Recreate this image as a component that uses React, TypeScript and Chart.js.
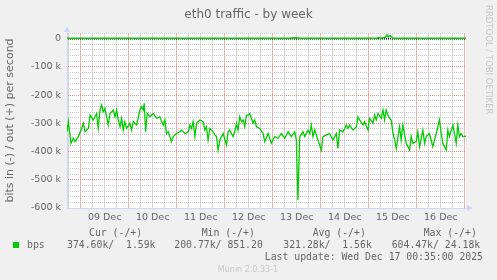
import React, { useEffect, useRef } from "react";
import { Chart, registerables } from "chart.js";

Chart.register(...registerables);

// time axis: hours since 08 Dec 00:00
const inHours = [
  17.2, 17.9, 19.2, 20.4, 21.2, 22.9, 24.5, 25.4, 26.2, 27.9, 28.7, 30.3, 32.0, 32.8, 33.7, 34.5,
  35.3, 36.2, 37.8, 38.7, 40.3, 41.2, 42.0, 42.8, 43.7, 44.5, 45.3, 46.1, 47.0, 48.6, 49.5, 50.3,
  52.0, 53.6, 54.5, 55.3, 55.8, 56.5, 57.3, 58.6, 60.3, 61.9, 63.6, 65.3, 66.1, 66.9, 67.8, 68.6,
  69.4, 70.3, 71.9, 73.6, 74.4, 76.1, 77.8, 78.6, 79.4, 80.2, 81.1, 81.9, 83.6, 85.2, 86.1, 86.9,
  87.7, 88.6, 90.2, 91.1, 91.9, 92.7, 93.6, 94.4, 95.2, 96.9, 97.7, 98.5, 100.2, 101.0, 101.9, 102.7,
  103.5, 104.4, 105.2, 106.0, 106.9, 107.7, 108.5, 110.2, 111.0, 111.9, 113.5, 115.2, 116.0, 117.7,
  119.3, 121.0, 122.7, 124.3, 126.0, 127.7, 129.3, 131.0, 131.8, 132.6, 133.5, 135.1, 136.0, 137.6,
  138.5, 139.3, 140.1, 141.0, 142.6, 144.3, 145.1, 146.8, 148.4, 150.1, 151.8, 152.6, 153.4, 155.1,
  156.8, 157.6, 158.4, 160.1, 161.8, 162.6, 163.4, 165.1, 165.9, 167.6, 168.4, 170.1, 170.9, 171.7,
  172.6, 174.2, 175.1, 175.9, 176.7, 177.6, 178.4, 179.2, 180.0, 180.9, 181.7, 183.4, 184.2, 185.0,
  186.7, 188.4, 189.2, 190.0, 191.7, 192.5, 193.4, 195.0, 195.9, 196.7, 198.3, 200.0, 201.7, 203.3,
  204.2, 205.0, 206.7, 207.5, 208.3, 210.0, 210.8, 211.7, 212.5, 213.3, 214.1, 215.0, 215.8, 216.5,
];
// bits in, thousands (negative = in)
const inValues = [
  -330, -294, -371, -353, -365, -347, -318, -300, -330, -318, -271, -288, -265, -318, -253, -235,
  -259, -247, -306, -265, -253, -277, -253, -288, -312, -282, -324, -294, -318, -300, -324, -294,
  -306, -253, -241, -253, -229, -330, -265, -277, -265, -282, -277, -306, -288, -336, -330, -347,
  -365, -347, -336, -330, -324, -336, -330, -306, -318, -294, -347, -300, -288, -294, -324, -312,
  -359, -318, -330, -341, -347, -395, -359, -347, -336, -377, -330, -324, -347, -330, -300, -324,
  -277, -294, -288, -312, -271, -271, -265, -300, -288, -312, -318, -336, -365, -336,
  -371, -347, -353, -336, -353, -330, -347, -330, -359, -572, -347, -330, -347, -324,
  -336, -306, -347, -324, -359, -395, -347, -341, -336, -359, -336, -389, -324, -330,
  -306, -318, -306, -324, -312, -277, -288, -306, -294, -324, -282, -300, -271, -288,
  -265, -282, -253, -288, -253, -271, -282, -288, -330, -359, -389, -312, -359, -306,
  -371, -395, -347, -371, -365, -330, -383, -324, -371, -347, -336, -383, -336, -288,
  -336, -371, -395, -324, -347, -306, -336, -371, -306, -347, -336, -347, -347, -345,
];
// bits out, thousands
const outHours = [17.2, 40, 70, 100, 128, 131.0, 134, 160, 172.2, 173.0, 174.0, 176.0, 177.2, 177.8, 178.6, 180, 200, 216.5];
const outValues = [1.5, 1.4, 1.5, 1.5, 1.5, 3.5, 1.5, 1.5, 1.5, 4.5, 1.5, 4, 13, 6, 11, 1.5, 1.5, 1.6];

const xLabelHours = [36, 60, 84, 108, 132, 156, 180, 204];
const xTickLabels = ["09 Dec", "10 Dec", "11 Dec", "12 Dec", "13 Dec", "14 Dec", "15 Dec", "16 Dec"];
const yLabelValues = [0, -100, -200, -300, -400, -500, -600];
const yTickLabels = ["0", "-100 k", "-200 k", "-300 k", "-400 k", "-500 k", "-600 k"];

const titleText = "eth0 traffic - by week";
const yTitleText = "bits in (-) / out (+) per second";
const sideText = "RRDTOOL / TOBI OETIKER";
const legendName = "bps";
const legendHeaders = ["Cur (-/+)", "Min (-/+)", "Avg (-/+)", "Max (-/+)"];
const legendValues = ["374.60k/  1.59k", "200.77k/ 851.20", "321.28k/  1.56k", "604.47k/ 24.18k"];
const lastUpdate = "Last update: Wed Dec 17 00:35:00 2025";
const footer = "Munin 2.0.33-1";

const GREEN = "#00cc00";
const FONT = "#666666";
const AXIS = "#cfd6f8";
const X_MINOR = "#d6d6d6";
const X_MAJOR = "#f2acac";
const Y_MINOR = "#c8c8c8";
const Y_MAJOR = "#ec8c8c";

const decorPlugin = {
  id: "decor",
  beforeDraw(chart: any) {
    const { ctx, chartArea } = chart;
    ctx.save();
    ctx.fillStyle = "#f0f0f0";
    ctx.fillRect(0, 0, chart.width, chart.height);
    ctx.fillStyle = "#ffffff";
    ctx.fillRect(chartArea.left, chartArea.top, chartArea.right - chartArea.left, chartArea.bottom - chartArea.top);
    ctx.restore();
  },
  afterDraw(chart: any) {
    const { ctx, chartArea } = chart;
    ctx.save();
    ctx.fillStyle = AXIS;
    ctx.beginPath();
    ctx.moveTo(chartArea.left - 3, chartArea.top - 1);
    ctx.lineTo(chartArea.left + 3, chartArea.top - 1);
    ctx.lineTo(chartArea.left, chartArea.top - 7);
    ctx.closePath();
    ctx.fill();
    ctx.beginPath();
    ctx.moveTo(chartArea.right + 1, chartArea.bottom - 3);
    ctx.lineTo(chartArea.right + 1, chartArea.bottom + 3);
    ctx.lineTo(chartArea.right + 7, chartArea.bottom);
    ctx.closePath();
    ctx.fill();

    ctx.fillStyle = FONT;
    ctx.textAlign = "center";
    ctx.textBaseline = "middle";
    ctx.font = '12px "DejaVu Sans"';
    ctx.fillText(titleText, 248.5, 14.5);

    ctx.save();
    ctx.translate(488.5, 5);
    ctx.rotate(Math.PI / 2);
    ctx.fillStyle = "#c8c8c8";
    ctx.font = '8.5px "DejaVu Sans"';
    ctx.textAlign = "left";
    ctx.fillText(sideText, 0, 0);
    ctx.restore();

    ctx.fillStyle = GREEN;
    ctx.fillRect(13, 242, 6, 6);
    ctx.fillStyle = FONT;
    ctx.font = '9.8px "DejaVu Sans Mono"';
    ctx.textAlign = "left";
    const hx = [89, 201.7, 312.7, 423.7];
    const vx = [67, 174.3, 283.3, 391.7];
    legendHeaders.forEach((t, i) => ctx.fillText(t, hx[i], 233.5));
    ctx.fillText(legendName, 27, 245.3);
    legendValues.forEach((t, i) => ctx.fillText(t, vx[i], 245.3));
    ctx.textAlign = "right";
    ctx.fillText(lastUpdate, 483, 257.7);

    ctx.textAlign = "center";
    ctx.fillStyle = "#c8c8c8";
    ctx.font = '8px "DejaVu Sans"';
    ctx.fillText(footer, 248, 269.5);
    ctx.restore();
  },
};

export default function App() {
  const ref = useRef<HTMLCanvasElement | null>(null);
  useEffect(() => {
    document.body.style.margin = "0";
    const canvas = ref.current;
    if (!canvas) return;
    const chart = new Chart(canvas, {
      type: "line",
      data: {
        datasets: [
          {
            label: "out",
            data: outHours.map((h, i) => ({ x: h, y: outValues[i] })),
            borderColor: GREEN,
            borderWidth: 1.5,
            pointRadius: 0,
            tension: 0,
          },
          {
            label: "in",
            data: inHours.map((h, i) => ({ x: h, y: inValues[i] })),
            borderColor: GREEN,
            borderWidth: 1.3,
            pointRadius: 0,
            tension: 0,
          },
        ],
      },
      plugins: [decorPlugin],
      options: {
        animation: false,
        responsive: false,
        events: [],
        layout: { padding: { left: 0, top: 33, right: 31, bottom: 52 } },
        plugins: { legend: { display: false }, title: { display: false }, tooltip: { enabled: false } },
        scales: {
          x: {
            type: "linear",
            min: 17.2,
            max: 216.58,
            afterFit: (s: any) => {
              s.height = 20;
            },
            afterBuildTicks: (s: any) => {
              const t = [];
              for (let h = 18; h <= 216; h += 6) t.push({ value: h });
              s.ticks = t;
            },
            grid: {
              drawTicks: false,
              lineWidth: 1,
              color: (c: any) => (c.tick && c.tick.value % 24 === 0 ? X_MAJOR : X_MINOR),
            },
            border: { display: true, color: AXIS, width: 1 },
            ticks: {
              autoSkip: false,
              maxRotation: 0,
              padding: 4,
              color: FONT,
              font: { family: "DejaVu Sans", size: 9.5 },
              callback: (v: any) => {
                const i = xLabelHours.indexOf(Number(v));
                return i >= 0 ? xTickLabels[i] : "";
              },
            },
          },
          y: {
            type: "linear",
            min: -600,
            max: 20,
            afterFit: (s: any) => {
              s.width = 67;
            },
            afterBuildTicks: (s: any) => {
              const t = [];
              for (let v = -600; v <= 20; v += 20) t.push({ value: v });
              s.ticks = t;
            },
            grid: {
              drawTicks: false,
              lineWidth: (c: any) => (c.tick && c.tick.value === 0 ? 1.5 : 1),
              color: (c: any) =>
                c.tick && c.tick.value === 0 ? "#000000" : c.tick && c.tick.value % 100 === 0 ? Y_MAJOR : Y_MINOR,
            },
            border: { display: true, color: AXIS, width: 1, dash: [1, 1] },
            title: {
              display: true,
              text: yTitleText,
              color: FONT,
              font: { family: "DejaVu Sans", size: 11 },
              padding: { top: 4, bottom: 0 },
            },
            ticks: {
              autoSkip: false,
              padding: 6,
              color: FONT,
              font: { family: "DejaVu Sans", size: 9.5 },
              callback: (v: any) => {
                const i = yLabelValues.indexOf(Number(v));
                return i >= 0 ? yTickLabels[i] : "";
              },
            },
          },
        },
      },
    });
    return () => chart.destroy();
  }, []);
  return (
    <div style={{ position: "absolute", left: 0, top: 0, width: 497, height: 280 }}>
      <canvas ref={ref} width={497} height={280} style={{ width: 497, height: 280, display: "block" }} />
    </div>
  );
}
